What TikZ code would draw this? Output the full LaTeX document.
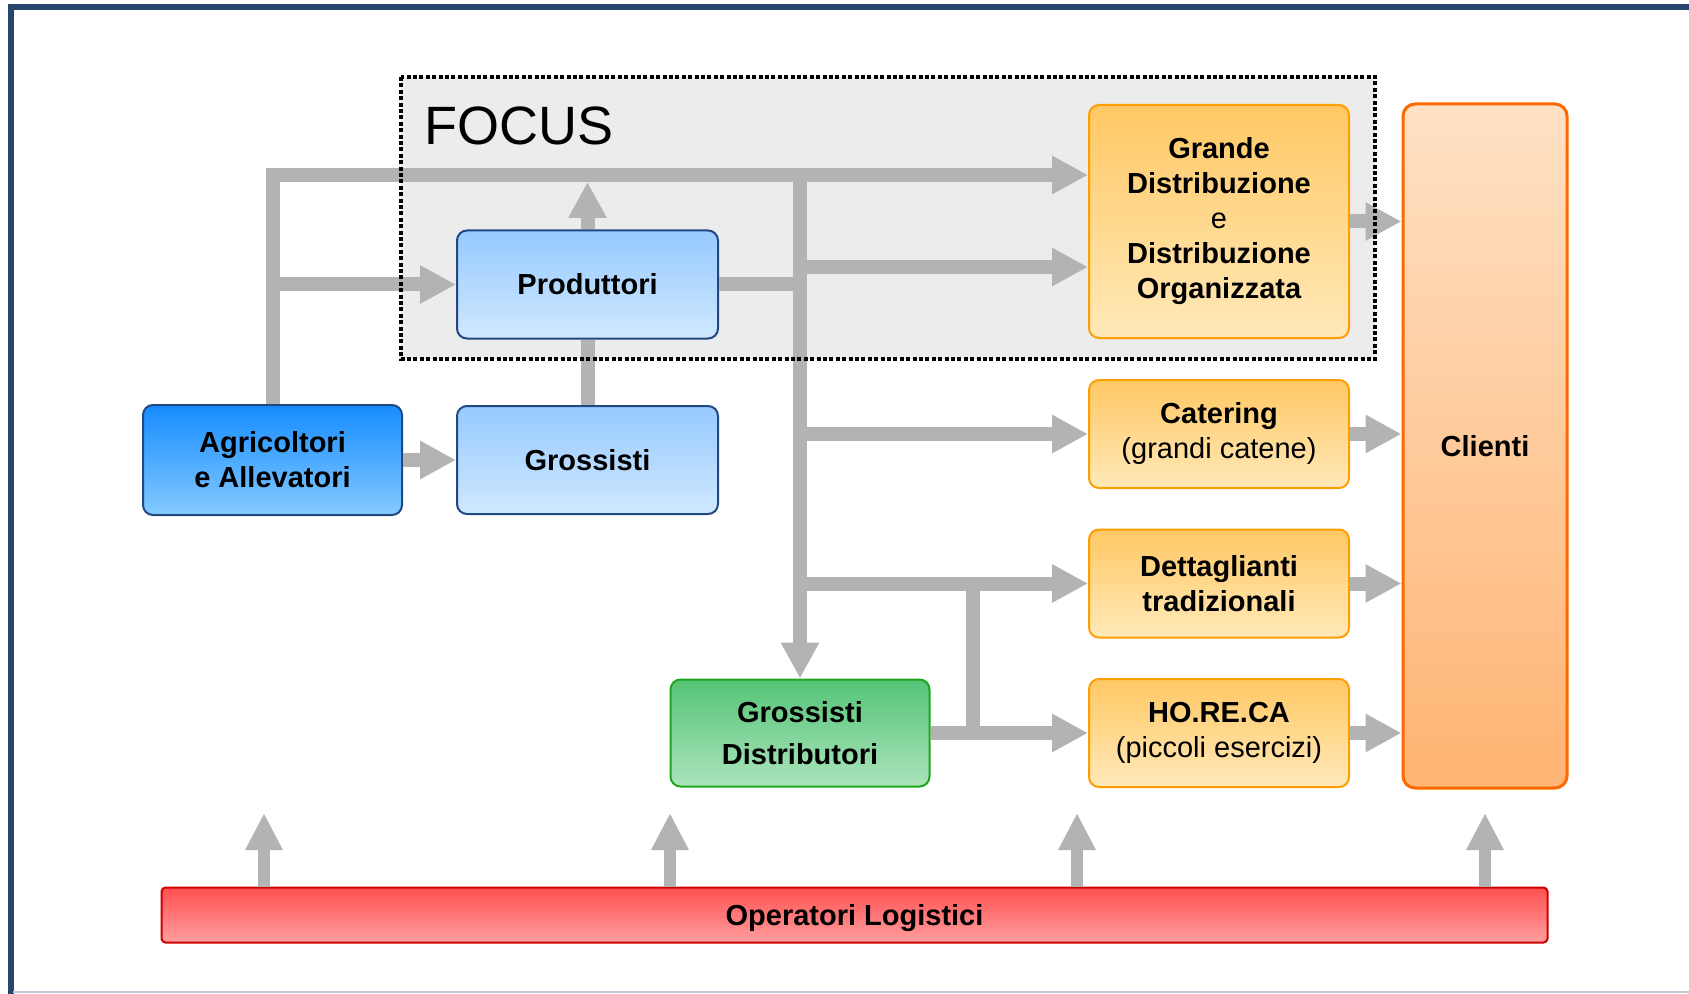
\documentclass[tikz,border=0pt]{standalone}
\usepackage{fontspec}
\setmainfont{Liberation Sans}
\usepackage{tikz}
\usetikzlibrary{%
  arrows.meta
}
\definecolor{cadrebleu}{RGB}{38,70,110}
\definecolor{cadregris}{RGB}{196,200,212}
\definecolor{gris}{RGB}{179,179,179}
\definecolor{fondfocus}{RGB}{236,236,236}
\definecolor{bleuhaut}{RGB}{150,202,255}
\definecolor{bleubas}{RGB}{208,232,255}
\definecolor{bleutrait}{RGB}{34,72,130}
\definecolor{agrihaut}{RGB}{22,140,255}
\definecolor{agribas}{RGB}{132,202,255}
\definecolor{verthaut}{RGB}{84,196,118}
\definecolor{vertbas}{RGB}{172,228,188}
\definecolor{verttrait}{RGB}{30,165,30}
\definecolor{orhaut}{RGB}{255,200,100}
\definecolor{orbas}{RGB}{255,233,185}
\definecolor{ortrait}{RGB}{255,158,0}
\definecolor{clihaut}{RGB}{255,225,196}
\definecolor{clibas}{RGB}{255,180,115}
\definecolor{clitrait}{RGB}{255,104,0}
\definecolor{rougehaut}{RGB}{255,80,80}
\definecolor{rougebas}{RGB}{255,158,158}
\definecolor{rougetrait}{RGB}{205,0,0}

\tikzset{
  bloc/.style={draw, line width=1pt, rounded corners=5pt, inner sep=0pt,
    align=center, font=\fontsize{14.5}{17.5}\selectfont\bfseries},
  blocbleu/.style={bloc, draw=bleutrait, top color=bleuhaut, bottom color=bleubas,
    minimum width=130.5pt, minimum height=54pt},
  blocagri/.style={bloc, draw=bleutrait, top color=agrihaut, bottom color=agribas,
    minimum width=129.5pt, minimum height=55pt},
  blocvert/.style={bloc, draw=verttrait, top color=verthaut, bottom color=vertbas,
    minimum width=129.5pt, minimum height=53.5pt},
  blocorange/.style={bloc, draw=ortrait, top color=orhaut, bottom color=orbas,
    minimum width=130pt, minimum height=54pt},
  bloccli/.style={bloc, draw=clitrait, line width=1.5pt, rounded corners=6pt,
    top color=clihaut, bottom color=clibas, minimum width=82pt, minimum height=342pt},
  blocrouge/.style={bloc, draw=rougetrait, rounded corners=2pt,
    top color=rougehaut, bottom color=rougebas, minimum width=693pt, minimum height=27.5pt},
}

\begin{document}
\begin{tikzpicture}[
  x=0.5pt, y=-0.5pt,
  fleche/.style={draw=gris, line width=7pt, -{Triangle[length=18pt, width=18pt]}},
  ligne/.style={draw=gris, line width=7pt},
  flechelog/.style={draw=gris, line width=6pt, -{Triangle[length=18.5pt, width=17.5pt]}},
]
  \useasboundingbox (0,0) rectangle (1689,994);

  % cadre
  \draw [cadrebleu, line width=3pt] (10.5,994) -- (10.5,7.5) -- (1689,7.5) ;
  \draw [cadregris, line width=1pt] (13,992) -- (1689,992) ;

  % fond du focus
  \fill [fondfocus] (401,77) rectangle (1375,359) ;
  \node [font=\fontsize{27}{30}\selectfont, anchor=base west] (focus) at (417,145) {FOCUS} ;

  % blocs de la filiere
  \node [blocagri] (agri) at (272.5,460) {Agricoltori\\e Allevatori} ;
  \node [blocbleu] (prod) at (587.5,284.5) {Produttori} ;
  \node [blocbleu] (gros) at (587.5,460) {Grossisti} ;
  \node [blocvert] (gdist) at (800,733) {Grossisti\\[3.5pt]Distributori} ;
  \node [blocorange, minimum height=116.5pt] (gd) at (1219,221.5)
        {Grande\\Distribuzione\\{\mdseries e}\\Distribuzione\\Organizzata} ;
  \node [blocorange] (cat) at (1219,434) {Catering\\{\mdseries(grandi catene)}} ;
  \node [blocorange] (det) at (1219,583.5) {Dettaglianti\\tradizionali} ;
  \node [blocorange] (hor) at (1219,733) {HO.RE.CA\\{\mdseries(piccoli esercizi)}} ;
  \node [bloccli] (cli) at (1485,446) {Clienti} ;
  \node [blocrouge, text depth=0pt] (log) at (854.5,915) {Operatori Logistici} ;

  % niveaux des lignes
  \coordinate (yhaut) at (0,175) ;
  \coordinate (ymid) at (0,267) ;
  \coordinate (xrac) at (972.5,0) ;

  % flux amont
  \draw [fleche] (agri.north) |- (gd.west |- yhaut) ;
  \draw [fleche] (agri.north |- prod.west) -- (prod.west) ;
  \draw [fleche, shorten >=3.5pt] (prod.north) -- (prod.north |- yhaut) ;
  \draw [ligne] (gros.north) -- (prod.south) ;
  \draw [fleche] (agri.east) -- (gros.west) ;

  % flux vers la distribution
  \draw [ligne] (prod.east) -- (prod.east -| gdist.north) ;
  \draw [fleche] (gdist.north |- yhaut) -- (gdist.north) ;
  \draw [fleche] (gdist.north |- ymid) -- (gd.west |- ymid) ;
  \draw [fleche] (gdist.north |- cat.west) -- (cat.west) ;
  \draw [fleche] (gdist.north |- det.west) -- (det.west) ;
  \draw [fleche] (gdist.east) -- (hor.west) ;
  \draw [ligne] (gdist.east -| xrac) -- (det.west -| xrac) ;

  % vers les clients
  \foreach \n in {gd, cat, det, hor} {
    \draw [fleche] (\n.east) -- (\n.east -| cli.west) ;
  }

  % operateurs logistiques
  \foreach \x in {264, 670, 1077, 1485} {
    \coordinate (l\x) at (\x,813) ;
    \draw [flechelog] (log.north -| l\x) -- (l\x) ;
  }

  % bord du focus
  \draw [line width=2pt, dash pattern=on 2pt off 1.2pt]
        (401,77) rectangle (1375,359) ;
\end{tikzpicture}
\end{document}
